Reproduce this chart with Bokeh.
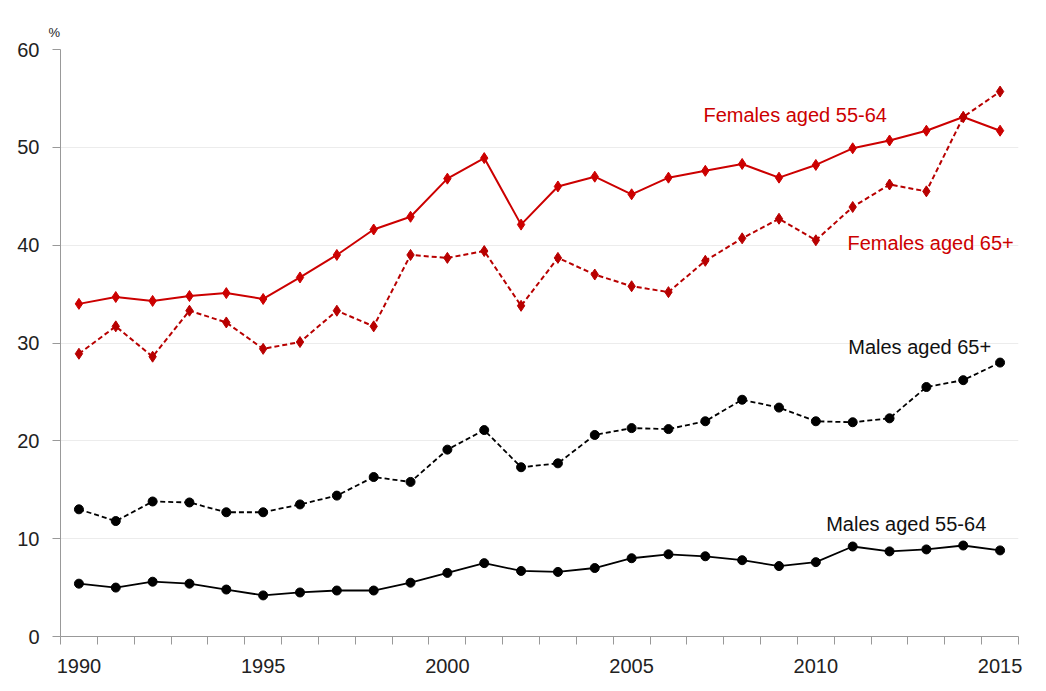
from bokeh.plotting import figure
from bokeh.models import FixedTicker, Range1d, Label, ColumnDataSource
from bokeh.embed import file_html
from bokeh.resources import INLINE

years = list(range(1990, 2016))
females_55_64 = [34.0, 34.7, 34.3, 34.8, 35.1, 34.5, 36.7, 39.0, 41.6, 42.9, 46.8, 48.9, 42.1, 46.0, 47.0, 45.2, 46.9, 47.6, 48.3, 46.9, 48.2, 49.9, 50.7, 51.7, 53.1, 51.7]
females_65_plus = [28.9, 31.7, 28.6, 33.3, 32.1, 29.4, 30.1, 33.3, 31.7, 39.0, 38.7, 39.4, 33.8, 38.7, 37.0, 35.8, 35.2, 38.4, 40.7, 42.7, 40.5, 43.9, 46.2, 45.5, 53.1, 55.7]
males_65_plus = [13.0, 11.8, 13.8, 13.7, 12.7, 12.7, 13.5, 14.4, 16.3, 15.8, 19.1, 21.1, 17.3, 17.7, 20.6, 21.3, 21.2, 22.0, 24.2, 23.4, 22.0, 21.9, 22.3, 25.5, 26.2, 28.0]
males_55_64 = [5.4, 5.0, 5.6, 5.4, 4.8, 4.2, 4.5, 4.7, 4.7, 5.5, 6.5, 7.5, 6.7, 6.6, 7.0, 8.0, 8.4, 8.2, 7.8, 7.2, 7.6, 9.2, 8.7, 8.9, 9.3, 8.8]

x_labels = [1990, 1995, 2000, 2005, 2010, 2015]
y_ticks = [0, 10, 20, 30, 40, 50, 60]

RED = "#cc0000"
RED_D = "#b80000"
FONT = "Liberation Sans"

p = figure(width=1030, height=675, output_backend="svg", toolbar_location=None,
           x_range=Range1d(1989.5, 2015.5), y_range=Range1d(0, 60),
           min_border_left=60, min_border_right=12, min_border_top=49, min_border_bottom=38,
           title="%")
p.outline_line_color = None
p.background_fill_color = "white"
p.xgrid.grid_line_color = None
p.ygrid.grid_line_color = "#ececec"
p.ygrid.ticker = FixedTicker(ticks=y_ticks)

p.title.text_font = FONT
p.title.text_font_size = "13px"
p.title.text_font_style = "normal"
p.title.text_color = "#222222"
p.title.align = "left"
p.title.offset = -12
p.title.standoff = 19

p.xaxis.ticker = FixedTicker(ticks=x_labels, minor_ticks=[y - 0.5 for y in years] + [2015.5])
p.xaxis.major_tick_out = 0
p.xaxis.major_tick_in = 0
p.xaxis.minor_tick_out = 8
p.xaxis.minor_tick_in = 0
p.xaxis.major_label_standoff = 14

p.yaxis.ticker = FixedTicker(ticks=y_ticks)
p.yaxis.major_tick_out = 8
p.yaxis.major_tick_in = 0
p.yaxis.major_label_standoff = 13

for ax in (p.xaxis, p.yaxis):
    ax.axis_line_color = "#999999"
    ax.major_tick_line_color = "#999999"
    ax.minor_tick_line_color = "#999999"
    ax.major_label_text_font = FONT
    ax.major_label_text_font_size = "20px"
    ax.major_label_text_color = "#222222"
p.yaxis.minor_tick_line_color = None

src = ColumnDataSource(dict(x=years, f1=females_55_64, f2=females_65_plus, m2=males_65_plus, m1=males_55_64))

p.line("x", "f1", source=src, line_color=RED, line_width=2)
p.scatter("x", "f1", source=src, marker="diamond", size=11, fill_color=RED, line_color=RED)
p.line("x", "f2", source=src, line_color=RED_D, line_width=2, line_dash="5 3")
p.scatter("x", "f2", source=src, marker="diamond", size=11, fill_color=RED_D, line_color=RED_D)
p.line("x", "m2", source=src, line_color="black", line_width=1.8, line_dash="5 3")
p.scatter("x", "m2", source=src, marker="circle", size=9, fill_color="black", line_color="black")
p.line("x", "m1", source=src, line_color="black", line_width=1.8)
p.scatter("x", "m1", source=src, marker="circle", size=9, fill_color="black", line_color="black")

def lab(x, y, t, c):
    p.add_layout(Label(x=x, y=y, text=t, text_color=c, text_font=FONT, text_font_size="20px",
                       text_align="left", text_baseline="middle"))

lab(2006.95, 53.3, "Females aged 55-64", RED)
lab(2010.86, 40.2, "Females aged 65+", RED)
lab(2010.88, 29.6, "Males aged 65+", "#111111")
lab(2010.28, 11.5, "Males aged 55-64", "#111111")

open("out.html", "w").write(file_html(p, INLINE))
